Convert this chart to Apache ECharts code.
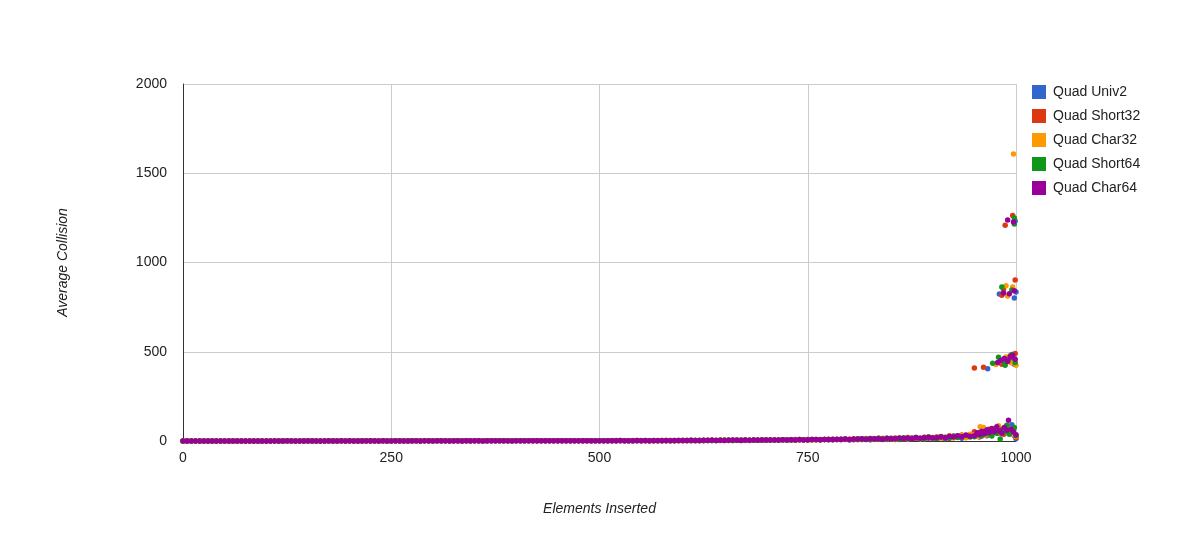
<!DOCTYPE html>
<html>
<head>
<meta charset="utf-8">
<style>
  html, body { margin: 0; padding: 0; background: #fff; }
  #chart { width: 1199px; height: 538px; }
</style>
<script src="https://cdn.jsdelivr.net/npm/echarts@6/dist/echarts.min.js"></script>
</head>
<body>
<div id="chart"></div>
<script>
const seriesNames = ['Quad Univ2', 'Quad Short32', 'Quad Char32', 'Quad Short64', 'Quad Char64'];
const seriesColors = ['#3366cc', '#dc3912', '#ff9900', '#109618', '#990099'];

const xTicks = [0, 250, 500, 750, 1000];
const yTicks = [0, 500, 1000, 1500, 2000];

// baseline samples: one value every 5 inserts, from 0 to 945
const baseStep = 5;

const univ2Base = [
  0,0,0,0,0,0,0,0,0,0,0,0,0,0,0,0,0,0,0,0,
  0,0,0,1,0,0,0,0,1,0,0,0,0,0,1,0,0,0,0,1,
  0,1,0,0,1,0,1,0,0,1,0,1,0,0,1,0,1,1,0,1,
  1,0,1,1,0,1,1,0,1,1,1,0,1,1,1,0,1,1,1,1,
  1,1,1,2,1,1,1,1,2,1,1,2,1,1,1,2,1,2,1,2,
  2,1,2,2,1,2,2,2,1,2,2,3,2,2,2,3,2,2,3,2,
  3,2,3,3,2,4,3,3,3,4,3,4,3,5,4,4,3,5,4,4,
  5,4,6,5,5,6,7,5,6,7,6,8,7,6,9,8,7,9,8,10,
  6,9,8,12,10,7,14,11,9,15,12,8,16,13,10,18,14,11,20,15,
  13,22,17,12,26,19,30,16,24,35
];
const short32Base = [
  0,0,0,0,0,0,0,0,0,0,0,0,0,0,0,0,0,0,0,0,
  0,0,0,0,1,0,0,0,0,1,0,0,1,0,0,0,0,1,0,0,
  1,0,0,1,0,0,1,0,1,0,0,1,0,1,0,1,0,0,1,1,
  0,1,1,0,1,1,0,1,1,0,1,1,1,0,1,1,1,1,1,1,
  1,2,1,1,1,2,1,1,1,2,2,1,1,2,1,1,2,2,1,2,
  2,2,1,2,3,2,2,1,2,3,2,2,2,3,2,3,2,3,2,3,
  2,3,4,3,3,2,4,3,4,3,5,3,4,4,5,3,4,5,4,6,
  4,6,5,7,5,6,6,8,6,7,9,6,8,7,8,10,7,9,11,8,
  10,7,13,9,11,8,12,15,10,9,14,17,11,13,19,12,16,14,21,17,
  20,15,25,18,14,28,21,33,19,27
];
const char32Base = [
  0,0,0,0,0,0,0,0,0,0,0,0,0,0,0,0,0,0,0,0,
  0,1,0,0,0,0,0,1,0,0,0,0,0,1,0,0,1,0,0,0,
  0,0,1,0,1,0,0,1,0,0,1,0,1,0,0,1,0,1,1,0,
  1,1,0,1,0,1,1,1,0,1,1,1,0,1,1,1,1,0,1,1,
  2,1,1,1,2,1,1,2,1,1,1,2,2,1,1,2,1,2,2,1,
  1,2,2,3,2,1,2,2,3,2,2,2,3,2,2,3,3,2,2,3,
  4,3,2,3,4,3,3,4,3,5,4,3,4,5,3,4,4,5,5,4,
  6,5,4,7,5,6,8,6,5,7,8,6,9,7,8,7,10,8,9,11,
  9,12,7,10,14,11,8,13,16,10,12,9,17,14,11,15,19,13,12,22,
  16,24,14,20,29,17,23,32,18,38
];
const short64Base = [
  0,0,0,0,0,0,0,0,0,0,0,0,0,0,0,0,0,0,0,0,
  0,0,1,0,0,0,1,0,0,0,0,1,0,0,0,0,1,0,1,0,
  0,0,1,1,0,0,1,0,1,0,1,0,0,1,1,0,1,0,1,0,
  1,1,0,1,1,0,1,1,1,0,1,1,0,1,1,1,1,1,0,1,
  1,1,2,1,1,1,2,1,1,2,1,1,2,1,2,1,1,2,2,2,
  2,2,2,1,2,3,2,2,2,2,3,2,2,3,2,2,3,3,2,3,
  3,3,2,4,3,3,4,3,3,4,4,5,3,4,4,5,4,4,6,5,
  5,5,6,4,7,6,6,5,8,7,6,9,7,8,8,7,10,9,8,11,
  8,10,12,9,13,8,11,15,12,10,16,13,9,18,14,12,20,16,13,22,
  18,14,24,21,17,27,20,25,31,23
];
const char64Base = [
  0,0,0,0,0,0,0,0,0,0,0,0,0,0,0,0,0,0,0,0,
  0,0,0,0,0,1,0,0,0,0,1,0,0,0,0,1,0,0,1,0,
  1,0,0,0,1,1,0,0,1,0,0,1,1,0,0,1,1,0,1,1,
  0,1,1,1,0,1,1,0,1,1,1,1,0,1,1,1,1,1,1,0,
  1,1,1,1,2,1,2,1,1,1,2,1,2,2,1,1,2,1,2,2,
  2,1,2,2,2,3,2,2,2,3,2,3,2,2,3,2,3,2,3,3,
  3,3,4,2,3,4,3,5,3,4,3,4,5,4,3,5,4,5,4,6,
  5,6,5,6,7,5,7,6,8,6,7,8,9,7,8,9,8,10,9,11,
  9,11,10,12,9,14,11,13,10,15,13,12,17,14,16,13,19,15,18,21,
  17,20,23,18,26,22,29,24,33,27
];

// last few inserts, as [inserted, average collision]
const univ2Tail = [
  [950,28],[953,41],[956,22],[959,35],[962,48],[965,30],[968,55],[971,38],[974,62],
  [977,45],[980,70],[983,52],[986,40],[989,75],[992,60],[995,91],[998,30],[1000,12],
  [966,405],[985,440],[990,455],[996,470],[998,430],
  [980,823],[998,801],[1000,835],[999,1232]
];
const short32Tail = [
  [950,52],[952,30],[955,44],[958,26],[961,58],[964,40],[967,66],[970,35],[973,50],
  [976,72],[979,45],[982,60],[985,38],[988,80],[991,55],[994,42],[997,68],[1000,20],
  [950,409],[961,413],[983,430],[989,462],[993,478],[997,445],[999,490],
  [983,816],[985,850],[999,902],[987,1208],[996,1264]
];
const char32Tail = [
  [951,38],[954,25],[957,80],[960,46],[961,76],[964,33],[967,58],[970,42],[973,66],
  [976,50],[979,85],[982,40],[985,62],[988,48],[991,70],[994,55],[997,36],[1000,25],
  [976,428],[981,450],[988,470],[994,438],[1000,425],
  [988,870],[990,812],[996,863],[997,1608]
];
const short64Tail = [
  [950,24],[953,35],[956,48],[959,30],[962,52],[965,40],[968,62],[971,28],[974,55],
  [977,44],[981,11],[984,66],[987,50],[989,88],[992,38],[995,60],[998,75],[1000,30],
  [972,435],[979,469],[984,448],[987,425],[991,458],[995,485],[999,440],
  [983,863],[995,846],[998,1216],[998,1249]
];
const char64Tail = [
  [950,30],[953,46],[956,35],[959,55],[962,40],[965,62],[968,48],[971,70],[974,52],
  [977,80],[980,58],[983,44],[986,75],[989,60],[991,116],[994,66],[997,50],[1000,35],
  [978,440],[982,452],[986,462],[990,445],[993,470],[996,480],[999,458],
  [985,829],[992,825],[998,842],[990,1238],[997,1227]
];

const bases = [univ2Base, short32Base, char32Base, short64Base, char64Base];
const tails = [univ2Tail, short32Tail, char32Tail, short64Tail, char64Tail];

const font = 'Arial, "Liberation Sans", sans-serif';
const chart = echarts.init(document.getElementById('chart'));

chart.setOption({
  animation: false,
  color: seriesColors,
  textStyle: { fontFamily: font },
  grid: { left: 183, right: 183, top: 84, bottom: 97 },
  legend: {
    orient: 'vertical',
    left: 1027,
    top: 80,
    icon: 'rect',
    itemWidth: 14,
    itemHeight: 14,
    itemGap: 10,
    textStyle: { fontSize: 14, color: '#222', fontFamily: font, padding: [0, 0, 0, 2] },
    data: seriesNames
  },
  xAxis: {
    type: 'value',
    min: xTicks[0],
    max: xTicks[xTicks.length - 1],
    interval: xTicks[1] - xTicks[0],
    name: 'Elements Inserted',
    nameLocation: 'middle',
    nameGap: 61,
    nameTextStyle: { fontSize: 14, color: '#222', fontStyle: 'italic', fontFamily: font },
    axisLine: { onZero: false, lineStyle: { color: '#333', width: 1 } },
    axisTick: { show: false },
    axisLabel: { fontSize: 14, color: '#222', margin: 10, fontFamily: font, formatter: v => String(v) },
    splitLine: { show: true, lineStyle: { color: '#cccccc', width: 1 } }
  },
  yAxis: {
    type: 'value',
    min: yTicks[0],
    max: yTicks[yTicks.length - 1],
    interval: yTicks[1] - yTicks[0],
    name: 'Average Collision',
    nameLocation: 'middle',
    nameGap: 113,
    nameTextStyle: { fontSize: 14, color: '#222', fontStyle: 'italic', fontFamily: font },
    axisLine: { show: true, onZero: false, lineStyle: { color: '#333', width: 1 } },
    axisTick: { show: false },
    axisLabel: { fontSize: 14, color: '#222', margin: 16, fontFamily: font, formatter: v => String(v) },
    splitLine: { show: true, lineStyle: { color: '#cccccc', width: 1 } }
  },
  series: seriesNames.map((name, i) => ({
    name,
    type: 'scatter',
    symbol: 'circle',
    symbolSize: 5.5,
    clip: false,
    itemStyle: { color: seriesColors[i], opacity: 1 },
    data: bases[i].map((v, k) => [k * baseStep, v]).concat(tails[i])
  }))
});
</script>
</body>
</html>
